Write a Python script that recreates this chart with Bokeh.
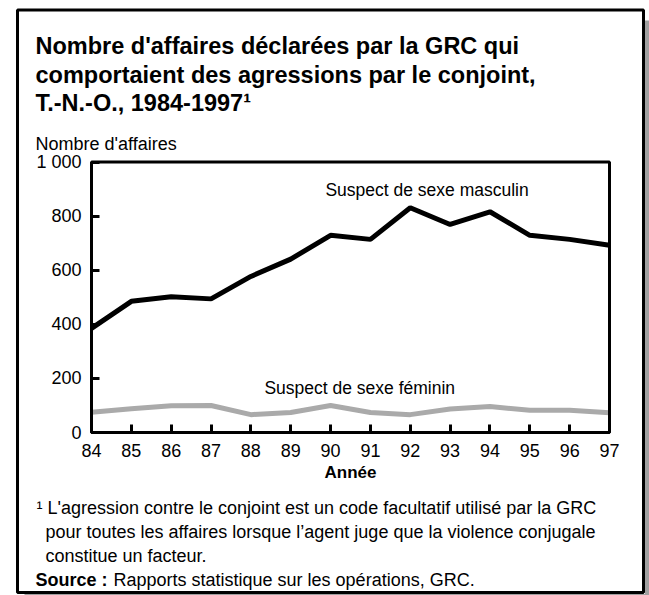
from bokeh.plotting import figure
from bokeh.models import Range1d, FixedTicker, Label, BoxAnnotation, LinearAxis
from bokeh.embed import file_html
from bokeh.resources import INLINE

# ---- data ----
years = [84, 85, 86, 87, 88, 89, 90, 91, 92, 93, 94, 95, 96, 97]
male = [385, 485, 502, 494, 577, 641, 729, 714, 831, 769, 816, 729, 714, 692]
female = [75, 88, 99, 100, 66, 74, 100, 74, 66, 87, 96, 82, 82, 73]
y_ticks = [0, 200, 400, 600, 800, 1000]
y_tick_labels = ["0", "200", "400", "600", "800", "1 000"]
x_tick_labels = [str(y) for y in years]

title_lines = [
    "Nombre d'affaires déclarées par la GRC qui",
    "comportaient des agressions par le conjoint,",
    "T.-N.-O., 1984-1997¹",
]
y_label = "Nombre d'affaires"
x_label = "Année"
male_label = "Suspect de sexe masculin"
female_label = "Suspect de sexe féminin"
note_lines = [
    "¹ L'agression contre le conjoint est un code facultatif utilisé par la GRC",
    "pour toutes les affaires lorsque l’agent juge que la violence conjugale",
    "constitue un facteur.",
]
source_bold = "Source :"
source_text = "Rapports statistique sur les opérations, GRC."

FONT = "Liberation Sans"
W, H = 649, 595

# page-pixel layout of the plot box
PX0, PX1 = 91.0, 609.0     # x of 84 and 97
PY0, PY1 = 432.0, 161.5    # y of 0 and 1000
xs = (PX1 - PX0) / (years[-1] - years[0])
ys = (PY0 - PY1) / 1000.0
x_range = Range1d(years[0] - PX0 / xs, years[-1] + (W - PX1) / xs)
y_range = Range1d(-(H - PY0) / ys, 1000 + PY1 / ys)

p = figure(width=W, height=H, output_backend="svg", toolbar_location=None,
           x_range=x_range, y_range=y_range, title=None,
           x_axis_location=None, y_axis_location=None,
           min_border_left=0, min_border_right=0,
           min_border_top=0, min_border_bottom=0)
p.grid.visible = False
p.background_fill_color = "white"
p.border_fill_color = "white"
p.outline_line_color = None

xaxis = LinearAxis(fixed_location=0, bounds=(years[0], years[-1]))
yaxis = LinearAxis(fixed_location=years[0], bounds=(0, 1000))
for ax in (xaxis, yaxis):
    ax.axis_line_width = 3
    ax.axis_line_color = "black"
    ax.major_tick_line_width = 3
    ax.major_tick_line_color = "black"
    ax.major_tick_in = 8
    ax.major_tick_out = 0
    ax.minor_tick_line_color = None
    ax.major_label_text_font = FONT
    ax.major_label_text_font_size = "18px"
    ax.major_label_text_color = "black"

xaxis.ticker = FixedTicker(ticks=years)
xaxis.major_label_overrides = {y: l for y, l in zip(years, x_tick_labels)}
xaxis.major_label_standoff = 11
xaxis.axis_label = x_label
xaxis.axis_label_text_font = FONT
xaxis.axis_label_text_font_size = "17px"
xaxis.axis_label_text_font_style = "bold"
xaxis.axis_label_text_color = "black"
xaxis.axis_label_standoff = 3

yaxis.ticker = FixedTicker(ticks=y_ticks)
yaxis.major_label_overrides = {t: l for t, l in zip(y_ticks, y_tick_labels)}
yaxis.major_label_standoff = 10

p.add_layout(xaxis, "below")
p.add_layout(yaxis, "left")

p.line(years, female, line_color="#aaaaaa", line_width=5)
p.line(years, male, line_color="black", line_width=5)

# plot box
p.add_layout(BoxAnnotation(left=years[0], right=years[-1], bottom=0, top=1000,
                           fill_color=None, line_color="black", line_alpha=1,
                           line_width=3))

p.add_layout(Label(x=89.87, y=895, text=male_label, text_font=FONT,
                   text_font_size="17.5px", text_color="black",
                   text_baseline="alphabetic"))
p.add_layout(Label(x=88.34, y=163, text=female_label, text_font=FONT,
                   text_font_size="17.5px", text_color="black",
                   text_baseline="alphabetic"))


def slabel(px, py, text, size="18px", style="normal"):
    p.add_layout(Label(x=px, y=H - py, x_units="screen", y_units="screen", text=text,
                       text_font=FONT, text_font_size=size, text_font_style=style,
                       text_color="black", text_baseline="alphabetic"))


for i, t in enumerate(title_lines):
    slabel(35, 45.5 + 28.5 * i, t, "23.5px", "bold")
slabel(35, 143, y_label, "18px")
for i, t in enumerate(note_lines):
    slabel(36 if i == 0 else 45, 507 + 24 * i, t)
slabel(35, 579, source_bold, style="bold")
slabel(113, 579, source_text)


def sbox(l, r, t, b, **kw):
    p.add_layout(BoxAnnotation(left=l, right=r, top=H - t, bottom=H - b,
                               left_units="screen", right_units="screen",
                               top_units="screen", bottom_units="screen", **kw))


sbox(644.5, 649, 20, 595, fill_color="#a0a0a0", fill_alpha=1, line_color=None)
sbox(24, 649, 593.5, 595, fill_color="#a0a0a0", fill_alpha=1, line_color=None)
sbox(17, 643, 9.5, 592, fill_color=None, line_color="black", line_alpha=1,
     line_width=3)

open("out.html", "w").write(file_html(p, INLINE))
